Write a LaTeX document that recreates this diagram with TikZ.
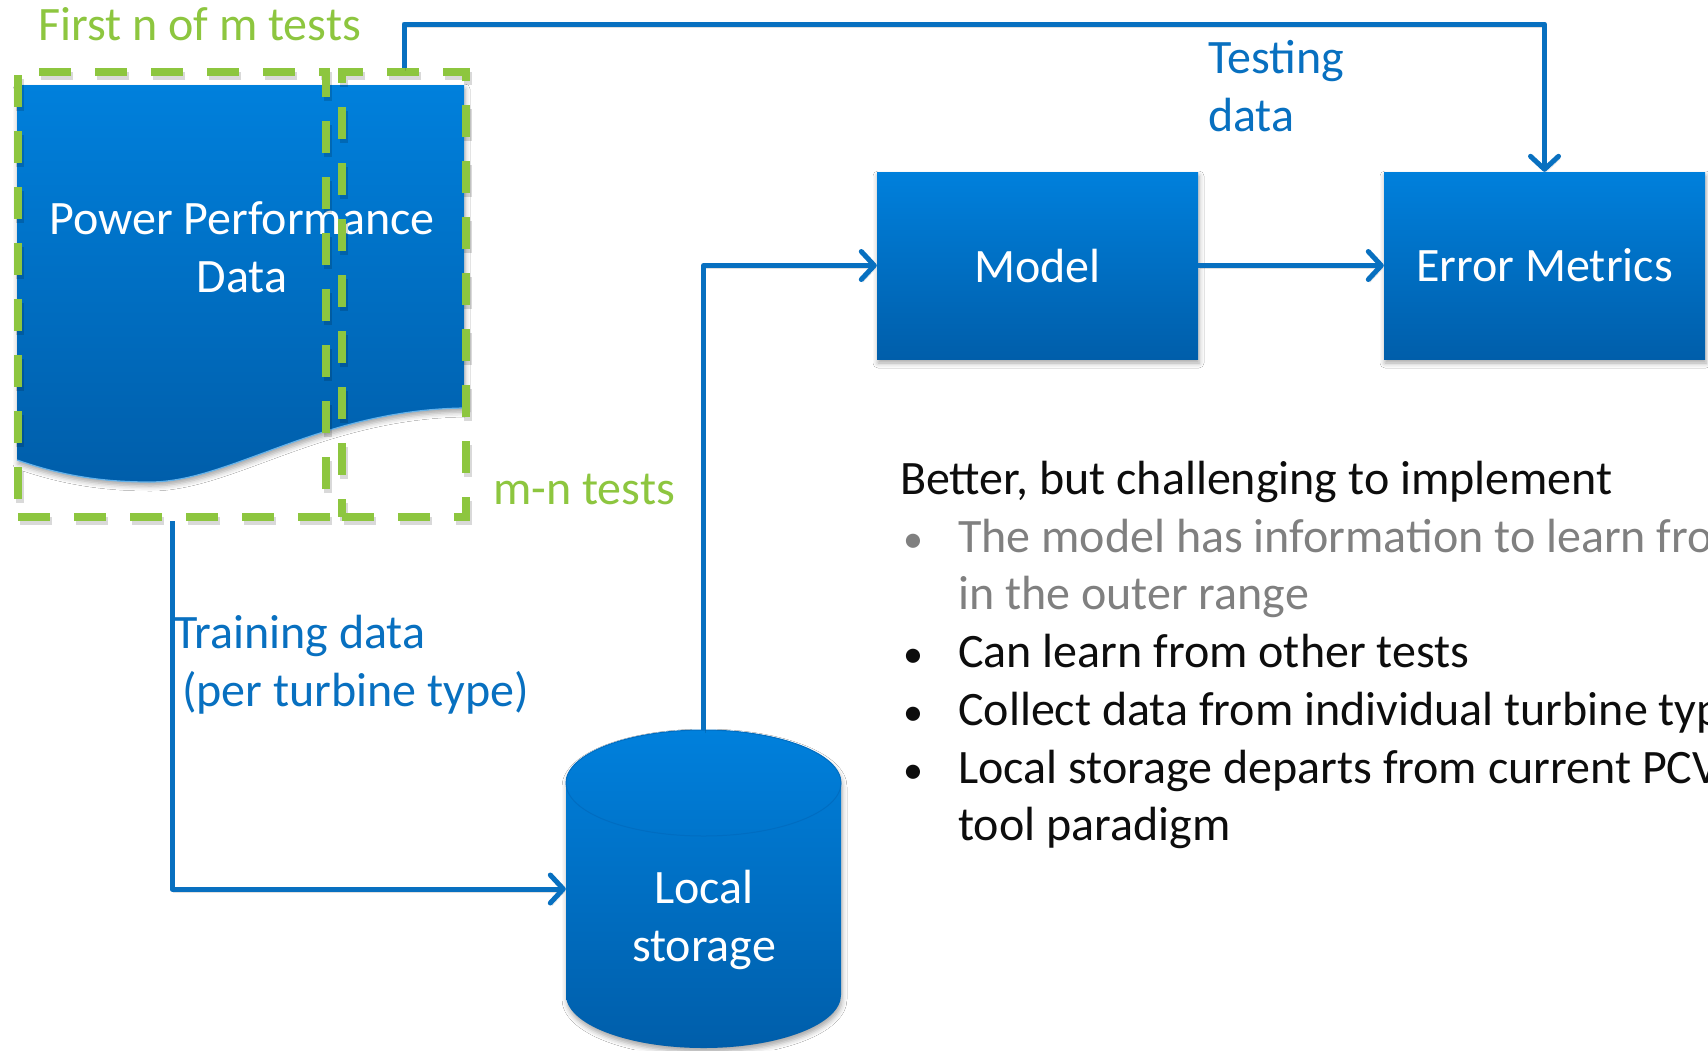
\documentclass[tikz,border=0pt]{standalone}
\usepackage{fontspec}
\setmainfont{Carlito}
\usetikzlibrary{arrows.meta,shadows.blur}
\definecolor{flowblue}{RGB}{8,112,192}
\definecolor{boxtop}{RGB}{0,128,220}
\definecolor{boxbot}{RGB}{0,94,170}
\definecolor{testgreen}{RGB}{141,198,63}
\definecolor{inktext}{RGB}{13,13,13}
\definecolor{softgray}{RGB}{128,128,128}
\newcommand{\bul}{\makebox[58pt][l]{\hspace{3pt}{\fontsize{40}{40}\selectfont •}}}
\tikzset{
  bigtext/.style={font=\fontsize{48}{57.7}\selectfont},
  softshadow/.style={blur shadow={shadow xshift=1pt, shadow yshift=-4pt, shadow blur radius=5pt, shadow opacity=35}},
  bluefill/.style={top color=boxtop, bottom color=boxbot, draw=none},
  bluebox/.style={bluefill, softshadow, minimum width=321pt, minimum height=187pt,
    inner sep=0pt, text=white, bigtext},
  conn/.style={draw=flowblue, line width=5pt, line join=round,
    preaction={draw=black, opacity=0.12, transform canvas={shift={(1.5pt,-3pt)}}},
    -{Straight Barb[length=13pt,width=28pt,round]}},
  groupbox/.style={draw=testgreen, line width=8pt, dash pattern=on 32pt off 24pt,
    preaction={draw=black, opacity=0.15, transform canvas={shift={(2pt,-4pt)}}},
    inner sep=0pt},
  greenlabel/.style={text=testgreen, bigtext, inner sep=0pt},
  bluelabel/.style={text=flowblue, bigtext, inner sep=0pt, align=left},
}
\begin{document}
\begin{tikzpicture}[x=1pt,y=-1pt]
\clip (0,0) rectangle (1708,1050);
\fill[white] (0,0) rectangle (1708,1050);

% power performance data (document shape)
\path[bluefill, softshadow] (17,85) -- (464,85) -- (464,408)
  .. controls (320,410) and (230,482) .. (150,482)
  .. controls (100,482) and (60,475) .. (17,460) -- cycle;
\draw[white!40!boxtop, line width=1.2pt] (464,408)
  .. controls (320,410) and (230,482) .. (150,482)
  .. controls (100,482) and (60,475) .. (17,460);
\node[text=white, bigtext, align=center, inner sep=0pt] (doc) at (242,247)
  {Power Performance\\Data};

% test groups
\node[groupbox, minimum width=308pt, minimum height=445pt] (first) at (172,294.5) {};
\node[groupbox, minimum width=124pt, minimum height=445pt] (rest) at (404,294.5) {};
\node[greenlabel, anchor=west] (firstlbl) at (38,24) {First n of m tests};
\node[greenlabel, anchor=west] (restlbl) at (493,489) {m-n tests};

% model and error metrics
\node[bluebox] (model) at (1037.5,265.5) {Model};
\node[bluebox] (err) at (1544.5,265.5) {Error Metrics};

% local storage (cylinder)
\node[minimum width=275pt, minimum height=318pt, inner sep=0pt] (store) at (703.5,889) {};
\path[bluefill, softshadow] (566,783) -- (566,995)
  arc[start angle=180, end angle=360, x radius=137.5pt, y radius=53pt]
  -- (841,783)
  arc[start angle=0, end angle=180, x radius=137.5pt, y radius=53pt] -- cycle;
\draw[boxbot!55!boxtop, line width=1pt] (703.5,783) ellipse [x radius=137.5pt, y radius=53pt];
\node[text=white, bigtext, align=center, inner sep=0pt] (storelbl) at (704,920)
  {Local\\storage};

% connectors
\coordinate (topbend) at (404,24);
\draw[conn] (rest.north) -- (topbend) -| (err.north);
\draw[conn] (first.south) |- (store.west);
\draw[conn] (store.north) |- (model.west);
\draw[conn] (model.east) -- (err.west);

% connector labels
\node[bluelabel, anchor=west] (testlbl) at (1208,86) {Testing\\data};
\node[bluelabel, anchor=west] (trainlbl) at (174,665) {Training data\\\hspace{8pt}(per turbine type)};

% notes
\node[anchor=north west, inner sep=0pt, text=inktext, bigtext, align=left] (notes) at (900,461)
  {Better, but challenging to implement\\
   \textcolor{softgray}{\bul The model has information to learn from}\\
   \hspace{58pt}\textcolor{softgray}{in the outer range}\\
   \bul Can learn from other tests\\
   \bul Collect data from individual turbine types\\
   \bul Local storage departs from current PCV\\
   \hspace{58pt}tool paradigm};
\end{tikzpicture}
\end{document}
